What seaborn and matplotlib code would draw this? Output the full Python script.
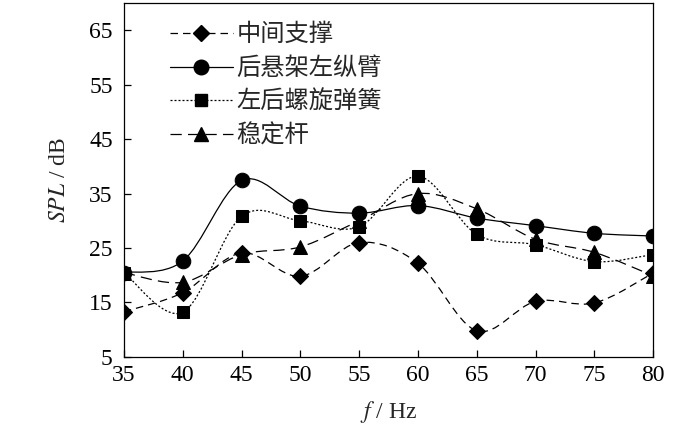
import numpy as np
import pandas as pd
import matplotlib
matplotlib.use("Agg")
import matplotlib.pyplot as plt
import seaborn as sns
from matplotlib.path import Path
from matplotlib.patches import PathPatch
from matplotlib.lines import Line2D

freq = [35, 40, 45, 50, 55, 60, 65, 70, 75, 80]
series_names = ["中间支撑", "后悬架左纵臂", "左后螺旋弹簧", "稳定杆"]
mid_support = [13.3, 16.8, 24.1, 19.8, 26.0, 22.2, 9.8, 15.2, 14.9, 20.4]
rear_arm = [20.5, 22.6, 37.4, 32.7, 31.4, 32.8, 30.5, 29.1, 27.7, 27.2]
coil_spring = [20.5, 13.2, 30.8, 30.0, 28.9, 38.2, 27.5, 25.6, 22.5, 23.8]
stabilizer = [20.5, 18.7, 23.8, 25.2, 30.0, 35.0, 32.2, 26.6, 24.2, 19.9]
x_ticks = [35, 40, 45, 50, 55, 60, 65, 70, 75, 80]
y_ticks = [5, 15, 25, 35, 45, 55, 65]

values = [mid_support, rear_arm, coil_spring, stabilizer]
markers = ["D", "o", "s", "^"]
msizes = [8.5, 10.5, 9, 9.5]
dashes = [(6, 4), None, (1.6, 1.6), (9, 5)]

sns.set_style("ticks")
plt.rcParams["font.family"] = ["Liberation Serif", "Noto Sans CJK SC"]
plt.rcParams["mathtext.fontset"] = "stix"

fig = plt.figure(figsize=(7, 4.3), dpi=100)
ax = fig.add_axes([0.177, 0.170, 0.756, 0.823])

df = pd.DataFrame({"f": freq * 4,
                   "spl": sum(values, []),
                   "s": sum([[n] * len(freq) for n in series_names], [])})


def smooth_path(xs, ys):
    pts = np.column_stack([xs, ys]).astype(float)
    n = len(pts)
    verts = [pts[0]]
    codes = [Path.MOVETO]
    for i in range(n - 1):
        p0 = pts[i - 1] if i > 0 else pts[i]
        p1 = pts[i]
        p2 = pts[i + 1]
        p3 = pts[i + 2] if i + 2 < n else pts[i + 1]
        c1 = p1 + (p2 - p0) / 6.0
        c2 = p2 - (p3 - p1) / 6.0
        verts += [c1, c2, p2]
        codes += [Path.CURVE4] * 3
    return Path(verts, codes)


handles = []
for name, vals, m, ms, d in zip(series_names, values, markers, msizes, dashes):
    patch = PathPatch(smooth_path(freq, vals), facecolor="none", edgecolor="black",
                      lw=0.9, transform=ax.transData, zorder=2)
    if d is not None:
        patch.set_linestyle((0, d))
    ax.add_patch(patch)
    sub = df[df["s"] == name]
    sns.lineplot(data=sub, x="f", y="spl", ax=ax, linestyle="none", marker=m,
                 markersize=ms, color="black", markeredgecolor="black", zorder=3,
                 legend=False)
    h = Line2D([], [], color="black", lw=0.9, marker=m, markersize=ms,
               linestyle="-" if d is None else (0, d))
    handles.append(h)

ax.set_xlim(35, 80)
ax.set_ylim(5, 70)
ax.set_xticks(x_ticks)
ax.set_yticks(y_ticks)
ax.tick_params(direction="in", length=5, width=0.9, labelsize=17, colors="black")
ax.tick_params(axis="x", pad=6)
ax.tick_params(axis="y", pad=8)
for sp in ax.spines.values():
    sp.set_linewidth(0.9)
    sp.set_color("black")

ax.set_xlabel(r"$f$ / Hz", fontsize=17, labelpad=9)
ax.set_ylabel(r"$SPL$ / dB", fontsize=17, labelpad=14)

leg = ax.legend(handles, series_names, loc="upper left", bbox_to_anchor=(0.045, 1.01),
                frameon=False, handlelength=2.6, handletextpad=0.15, labelspacing=0.32,
                prop={"family": ["Noto Sans CJK SC"], "size": 17.5})

fig.savefig("out.png", dpi=100)
